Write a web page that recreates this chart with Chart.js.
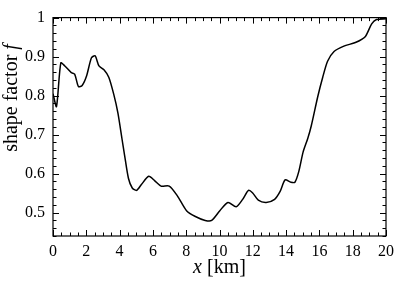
<!DOCTYPE html>
<html>
<head>
<meta charset="utf-8">
<script src="https://cdn.jsdelivr.net/npm/chart.js@4/dist/chart.umd.min.js"></script>
<style>
html,body{margin:0;padding:0;background:#fff;}
#wrap{width:400px;height:282px;position:relative;}
</style>
</head>
<body>
<div id="wrap"><canvas id="c" width="400" height="282"></canvas></div>
<script>
// Data
const distanceKm = [0, 0.21, 0.47, 0.71, 1.1, 1.3, 1.53, 1.75, 2.02, 2.31, 2.53, 2.76, 3.06, 3.35, 3.65, 3.9, 4.14, 4.3, 4.53, 4.76, 5.02, 5.31, 5.75, 6.1, 6.49, 6.98, 7.47, 8.02, 8.55, 9.14, 9.53, 10.02, 10.51, 11.0, 11.39, 11.74, 11.98, 12.33, 12.8, 13.31, 13.65, 13.94, 14.29, 14.53, 14.76, 15.02, 15.3, 15.51, 15.9, 16.2, 16.49, 16.88, 17.47, 18.16, 18.75, 19.14, 19.43, 20];
const shapeFactor = [0.805, 0.772, 0.884, 0.876, 0.859, 0.855, 0.823, 0.826, 0.851, 0.897, 0.902, 0.876, 0.866, 0.847, 0.803, 0.755, 0.69, 0.647, 0.588, 0.563, 0.557, 0.572, 0.593, 0.582, 0.568, 0.568, 0.543, 0.505, 0.49, 0.48, 0.48, 0.505, 0.526, 0.515, 0.534, 0.557, 0.551, 0.532, 0.526, 0.534, 0.555, 0.584, 0.578, 0.578, 0.605, 0.655, 0.69, 0.722, 0.797, 0.847, 0.888, 0.913, 0.927, 0.936, 0.951, 0.984, 0.995, 0.997];
const xTickLabels = [0, 2, 4, 6, 8, 10, 12, 14, 16, 18, 20];
const yTickLabels = [0.5, 0.6, 0.7, 0.8, 0.9, 1];
const xMinorStep = 0.5;
const yMinorStep = 0.02;

const FONT = '"Liberation Serif", "DejaVu Serif", serif';

const points = distanceKm.map((x, i) => ({x: x, y: shapeFactor[i]}));

const frameAndTicks = {
  id: 'frameAndTicks',
  afterDatasetsDraw(chart) {
    const ctx = chart.ctx, a = chart.chartArea;
    const xs = chart.scales.x, ys = chart.scales.y;
    ctx.save();
    ctx.strokeStyle = '#000';
    ctx.lineWidth = 1.2;
    ctx.strokeRect(a.left, a.top, a.right - a.left, a.bottom - a.top);
    ctx.lineWidth = 1;
    ctx.beginPath();
    // x ticks
    for (let v = xs.min; v <= xs.max + 1e-9; v += xMinorStep) {
      const major = xTickLabels.some(t => Math.abs(t - v) < 1e-6);
      const len = major ? 6 : 3.5;
      const px = Math.round(xs.getPixelForValue(v)) + 0.5;
      ctx.moveTo(px, a.bottom); ctx.lineTo(px, a.bottom - len);
      ctx.moveTo(px, a.top); ctx.lineTo(px, a.top + len);
    }
    // y ticks
    const start = Math.ceil((ys.min - 1e-9) / yMinorStep) * yMinorStep;
    for (let v = start; v <= ys.max + 1e-9; v += yMinorStep) {
      const major = yTickLabels.some(t => Math.abs(t - v) < 1e-6);
      const len = major ? 6 : 3.5;
      const py = Math.round(ys.getPixelForValue(v)) + 0.5;
      ctx.moveTo(a.left, py); ctx.lineTo(a.left + len, py);
      ctx.moveTo(a.right, py); ctx.lineTo(a.right - len, py);
    }
    ctx.stroke();

    // axis titles with italic variables
    ctx.fillStyle = '#000';
    ctx.textBaseline = 'middle';
    // x title
    const parts = [['italic 20px ' + FONT, 'x'], ['20px ' + FONT, ' [km]']];
    let w = 0;
    parts.forEach(p => { ctx.font = p[0]; w += ctx.measureText(p[1]).width; });
    let x0 = (a.left + a.right) / 2 - w / 2;
    parts.forEach(p => { ctx.font = p[0]; ctx.fillText(p[1], x0, 268); x0 += ctx.measureText(p[1]).width; });
    // y title (rotated)
    ctx.translate(12, 98);
    ctx.rotate(-Math.PI / 2);
    const yparts = [['20px ' + FONT, 'shape factor '], ['italic 20px ' + FONT, 'f']];
    w = 0;
    yparts.forEach(p => { ctx.font = p[0]; w += ctx.measureText(p[1]).width; });
    x0 = -w / 2;
    yparts.forEach(p => { ctx.font = p[0]; ctx.fillText(p[1], x0, 0); x0 += ctx.measureText(p[1]).width; });
    ctx.restore();
  }
};

new Chart(document.getElementById('c'), {
  type: 'line',
  data: {
    datasets: [{
      data: points,
      borderColor: '#000',
      borderWidth: 1.5,
      pointRadius: 0,
      fill: false,
      tension: 0.25
    }]
  },
  options: {
    responsive: false,
    animation: false,
    layout: {padding: {top: 12, right: 7, left: 0, bottom: 0}},
    plugins: {legend: {display: false}, tooltip: {enabled: false}},
    scales: {
      x: {
        type: 'linear',
        min: 0, max: 20,
        grid: {display: false, drawTicks: false},
        border: {display: false},
        afterBuildTicks: s => { s.ticks = xTickLabels.map(v => ({value: v})); },
        afterFit: s => { s.height = 46; },
        ticks: {
          color: '#000', padding: 6,
          font: {family: FONT, size: 16},
          maxRotation: 0, autoSkip: false,
          callback: v => String(v)
        }
      },
      y: {
        type: 'linear',
        min: 0.44, max: 1,
        grid: {display: false, drawTicks: false},
        border: {display: false},
        afterBuildTicks: s => { s.ticks = yTickLabels.map(v => ({value: v})); },
        afterFit: s => { s.width = 53; },
        ticks: {
          color: '#000', padding: 8,
          font: {family: FONT, size: 16},
          autoSkip: false,
          callback: v => String(Math.round(v * 10) / 10)
        }
      }
    }
  },
  plugins: [frameAndTicks]
});
</script>
</body>
</html>
